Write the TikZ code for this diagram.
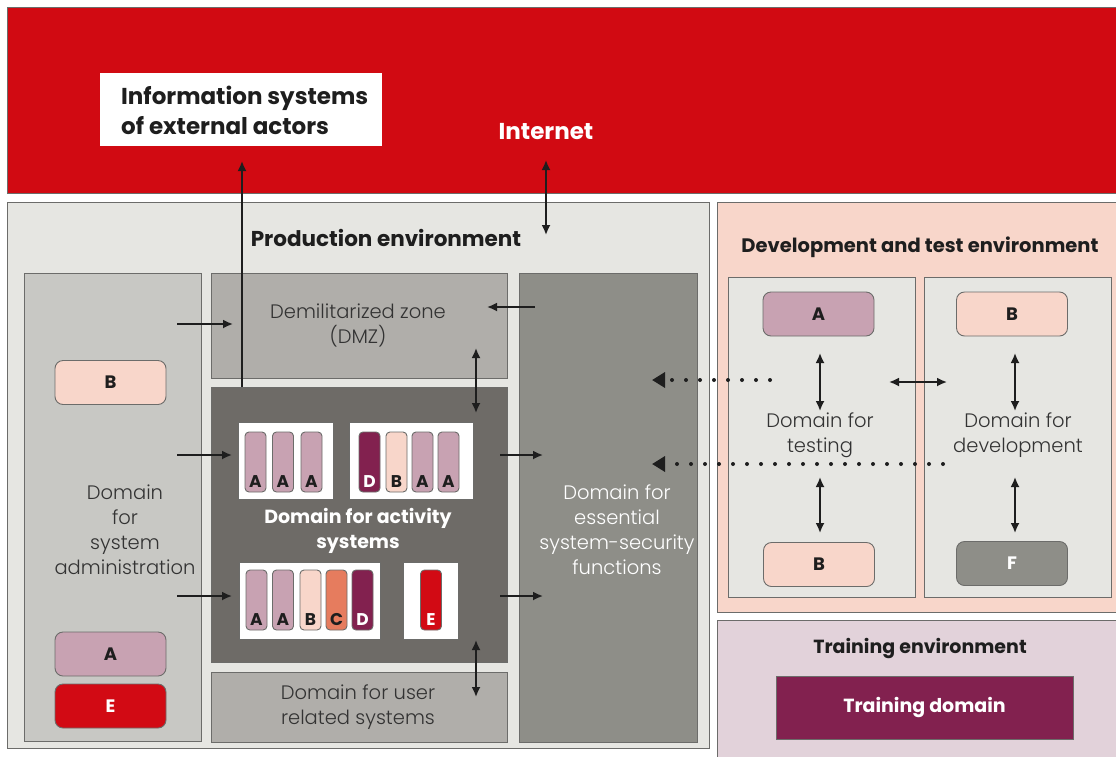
\documentclass[tikz,border=0pt]{standalone}
\usepackage{fontspec}
\setmainfont{Poppins}
\newfontfamily\lightfont{Poppins Light}
\usetikzlibrary{arrows.meta,calc}
\definecolor{redband}{HTML}{D10A12}
\definecolor{edge}{HTML}{6C6C6A}
\definecolor{prodbg}{HTML}{E6E6E2}
\definecolor{admbg}{HTML}{C8C8C4}
\definecolor{dmzbg}{HTML}{B0AEAA}
\definecolor{actbg}{HTML}{6E6B67}
\definecolor{essbg}{HTML}{8E8E88}
\definecolor{peach}{HTML}{F8D6CA}
\definecolor{trainbg}{HTML}{E2D2DA}
\definecolor{colA}{HTML}{C8A2B2}
\definecolor{colB}{HTML}{F8D6CA}
\definecolor{colC}{HTML}{E67C5E}
\definecolor{colD}{HTML}{82214F}
\definecolor{colE}{HTML}{D20A14}
\definecolor{colF}{HTML}{8E8E88}
\definecolor{txtgray}{HTML}{333333}
\definecolor{ink}{HTML}{1E1E1E}
\newcommand{\stick}[6]{%
  \node[stickbox, fill=#4] (#1) at (#2,#3) {};
  \node[sticklbl, text=#6] (#1l) at ($(#1.south)+(0,-11)$) {#5};}
\begin{document}
\begin{tikzpicture}[x=1pt,y=-1pt,
  region/.style={draw=edge, line width=0.9pt, inner sep=0pt},
  pill/.style={draw=edge, line width=0.9pt, rounded corners=8pt, inner sep=0pt,
    minimum width=111pt, minimum height=44pt, font=\bfseries\fontsize{18}{20}\selectfont, text=ink},
  stickbox/.style={draw=edge, line width=0.9pt, rounded corners=4pt, inner sep=0pt,
    minimum width=21pt, minimum height=60pt},
  sticklbl/.style={inner sep=0pt, font=\bfseries\fontsize{17}{19}\selectfont},
  whitebox/.style={fill=white, draw=edge, line width=0.6pt, inner sep=0pt, minimum height=77pt},
  title/.style={font=\bfseries\fontsize{19.5}{22}\selectfont, text=ink, inner sep=0pt},
  body/.style={font=\lightfont\fontsize{19.5}{25}\selectfont, text=txtgray, align=center, inner sep=0pt},
  arr/.style={line width=1.8pt, draw=ink, -{Latex[length=10pt,width=9pt]}},
  darr/.style={line width=1.8pt, draw=ink, {Latex[length=10pt,width=9pt]}-{Latex[length=10pt,width=9pt]}},
  dotarr/.style={line width=4pt, draw=ink, line cap=round, dash pattern=on 0pt off 14pt,
    -{Triangle[length=13pt,width=15pt]}}
]
\useasboundingbox (0,0) rectangle (1116,756);
\fill[white] (0,0) rectangle (1116,756);

% Internet band
\node[region, fill=redband, minimum width=1115pt, minimum height=186pt] (inet) at (564.5,100) {};
\node[fill=white, inner sep=0pt, minimum width=282pt, minimum height=73pt] (info) at (241,109.5) {};
\node[anchor=west, inner sep=0pt, align=left, font=\bfseries\fontsize{23}{30}\selectfont, text=ink] (infotxt) at (121,110) {Information systems\\of external actors};
\node[font=\bfseries\fontsize{23}{26}\selectfont, text=white, inner sep=0pt] (inettxt) at (546,132) {Internet};

% Production environment
\node[region, fill=prodbg, minimum width=702pt, minimum height=546pt] (prod) at (358,475) {};
\node[title, font=\bfseries\fontsize{21.5}{24}\selectfont] (prodlbl) at (386,238) {Production environment};
\node[region, fill=admbg, minimum width=177pt, minimum height=468pt] (admin) at (112.5,507) {};
\node[region, fill=dmzbg, minimum width=296pt, minimum height=105pt] (dmz) at (359,325.5) {};
\node[region, fill=actbg, minimum width=296pt, minimum height=275pt] (act) at (359,524.5) {};
\node[region, fill=dmzbg, minimum width=296pt, minimum height=70pt] (user) at (359,707) {};
\node[region, fill=essbg, minimum width=178pt, minimum height=469pt] (ess) at (608,507.5) {};

\node[body] (admintxt) at (125,530) {Domain\\for\\system\\administration};
\node[body] (dmztxt) at (358,325) {Demilitarized zone\\(DMZ)};
\node[body] (usertxt) at (358,707) {Domain for user\\related systems};
\node[body, text=white] (esstxt) at (617,530) {Domain for\\essential\\system-security\\functions};
\node[font=\bfseries\fontsize{19}{25}\selectfont, text=white, align=center, inner sep=0pt] (acttxt) at (358,530.5) {Domain for activity\\systems};

\node[pill, fill=colB] (admB) at (110.5,382.5) {B};
\node[pill, fill=colA] (admA) at (110.5,654) {A};
\node[pill, fill=colE, text=white] (admE) at (110.5,706) {E};

% activity sub-boxes
\node[whitebox, minimum width=95pt] (grp1) at (285.5,460.5) {};
\node[whitebox, minimum width=124pt] (grp2) at (411,460.5) {};
\node[whitebox, minimum width=141pt] (grp3) at (309.5,600.5) {};
\node[whitebox, minimum width=55pt] (grp4) at (430.5,600.5) {};
\stick{s11}{255.5}{462}{colA}{A}{ink}
\stick{s12}{283}{462}{colA}{A}{ink}
\stick{s13}{311.5}{462}{colA}{A}{ink}
\stick{s21}{369.5}{462}{colD}{D}{white}
\stick{s22}{396.5}{462}{colB}{B}{ink}
\stick{s23}{422.5}{462}{colA}{A}{ink}
\stick{s24}{448.5}{462}{colA}{A}{ink}
\stick{s31}{256.5}{600}{colA}{A}{ink}
\stick{s32}{283}{600}{colA}{A}{ink}
\stick{s33}{310.5}{600}{colB}{B}{ink}
\stick{s34}{336.5}{600}{colC}{C}{ink}
\stick{s35}{362.5}{600}{colD}{D}{white}
\stick{s41}{431}{600}{colE}{E}{white}

% Development and test environment
\node[region, fill=peach, minimum width=403pt, minimum height=410pt] (devenv) at (918.5,407) {};
\node[title] (devlbl) at (920,247) {Development and test environment};
\node[region, fill=prodbg, minimum width=187pt, minimum height=320pt] (test) at (821.5,437) {};
\node[region, fill=prodbg, minimum width=187pt, minimum height=320pt] (dev) at (1017.5,437) {};
\node[pill, fill=colA] (tA) at (818.5,314) {A};
\node[pill, fill=colB] (dB) at (1012,314) {B};
\node[pill, fill=colB] (tB) at (819,564.5) {B};
\node[pill, fill=colF, text=white] (dF) at (1012,563.5) {F};
\node[body] (testtxt) at (820,435.5) {Domain for\\testing};
\node[body] (devtxt) at (1018,435.5) {Domain for\\development};

% Training environment
\node[region, fill=trainbg, minimum width=403pt, minimum height=140pt] (trainenv) at (918.5,690) {};
\node[title, font=\bfseries\fontsize{19}{22}\selectfont] (trainlbl) at (920,648) {Training environment};
\node[region, fill=colD, minimum width=297pt, minimum height=63pt, font=\bfseries\fontsize{19}{22}\selectfont, text=white] (traindom) at (924.5,707.5) {Training domain};

% connector end points
\coordinate (extS) at (242,387);
\coordinate (extE) at (242,161);
\coordinate (inS) at (546,160);
\coordinate (inE) at (546,235);
\coordinate (a1s) at (177,324);  \coordinate (a1e) at (233,324);
\coordinate (a2s) at (177,455);  \coordinate (a2e) at (232,455);
\coordinate (a3s) at (177,596);  \coordinate (a3e) at (232,596);
\coordinate (e1s) at (535,307);  \coordinate (e1e) at (487,307);
\coordinate (v1s) at (476,348);  \coordinate (v1e) at (476,413);
\coordinate (v2s) at (476,640);  \coordinate (v2e) at (476,697);
\coordinate (r1s) at (500,455);  \coordinate (r1e) at (543,455);
\coordinate (r2s) at (500,596);  \coordinate (r2e) at (543,596);
\coordinate (t1s) at (820,353);  \coordinate (t1e) at (820,411);
\coordinate (t2s) at (820,477);  \coordinate (t2e) at (820,533);
\coordinate (d1s) at (1015,353); \coordinate (d1e) at (1015,411);
\coordinate (d2s) at (1015,477); \coordinate (d2e) at (1015,533);
\coordinate (hs) at (889,382);   \coordinate (he) at (947,382);
\coordinate (p1s) at (770,380);  \coordinate (p1e) at (652,380);
\coordinate (p2s) at (943,464);  \coordinate (p2e) at (652,464);

\draw[arr] (extS) -- (extE);
\draw[darr] (inS) -- (inE);
\draw[arr] (a1s) -- (a1e);
\draw[arr] (a2s) -- (a2e);
\draw[arr] (a3s) -- (a3e);
\draw[arr] (e1s) -- (e1e);
\draw[darr] (v1s) -- (v1e);
\draw[darr] (v2s) -- (v2e);
\draw[arr] (r1s) -- (r1e);
\draw[arr] (r2s) -- (r2e);
\draw[darr] (t1s) -- (t1e);
\draw[darr] (t2s) -- (t2e);
\draw[darr] (d1s) -- (d1e);
\draw[darr] (d2s) -- (d2e);
\draw[darr] (hs) -- (he);
\draw[dotarr] (p1s) -- (p1e);
\draw[dotarr] (p2s) -- (p2e);
\end{tikzpicture}
\end{document}
